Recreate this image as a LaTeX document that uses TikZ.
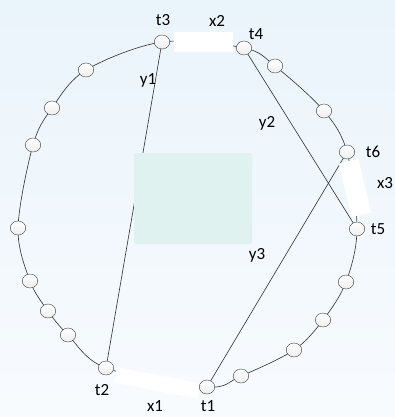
\documentclass[tikz,border=0pt]{standalone}
\usepackage{fontspec}
\setmainfont{Carlito}
\usepackage{tikz}
\usetikzlibrary{positioning,shapes.geometric}
\definecolor{bgtop}{HTML}{EAF4FB}
\definecolor{bgbottom}{HTML}{F8FBFE}
\definecolor{ringline}{HTML}{3A3A3A}
\definecolor{zonefill}{HTML}{DFF2F0}
\tikzset{
  station/.style={
    ellipse,
    draw=ringline,
    thin,
    top color=white,
    bottom color=gray!14,
    minimum width=15.5pt,
    minimum height=14pt,
    inner sep=0pt
  },
  gapbox/.style={
    fill=white,
    inner sep=0pt
  },
  chord/.style={
    draw=ringline,
    line width=0.65pt
  },
  tag/.style={
    font=\fontsize{17}{20}\selectfont,
    inner sep=0pt
  }
}

\begin{document}
\begin{tikzpicture}[x=1pt,y=-1pt]
  \fill[top color=bgtop, bottom color=bgbottom] (0,0) rectangle (395,417);
  \useasboundingbox (0,0) rectangle (395,417);

  % stations on the ring
  \coordinate (t3) at (162,42);
  \coordinate (a1) at (86,70);
  \coordinate (a2) at (52,108);
  \coordinate (a3) at (33,145);
  \coordinate (a4) at (18,228);
  \coordinate (a5) at (30,281);
  \coordinate (a6) at (48,311);
  \coordinate (a7) at (68,335);
  \coordinate (t2) at (106,368);
  \coordinate (t1) at (207,387);
  \coordinate (b1) at (241,376);
  \coordinate (b2) at (294,350);
  \coordinate (b3) at (323,320);
  \coordinate (b4) at (346,282);
  \coordinate (t5) at (357,229);
  \coordinate (t6) at (347,152);
  \coordinate (c1) at (324,111);
  \coordinate (c2) at (275,66);
  \coordinate (t4) at (244,48);

  \draw[chord] plot[smooth cycle, tension=0.55] coordinates {(t3) (a1) (a2) (a3) (a4) (a5) (a6) (a7) (t2) (t1) (b1) (b2) (b3) (b4) (t5) (t6) (c1) (c2) (t4)};

  \draw[chord] (t3) -- (t2);
  \draw[chord] (t4) -- (t5);
  \draw[chord] (t1) -- (t6);

  \node[fill=zonefill, rounded corners=2pt, minimum width=118pt, minimum height=91pt, inner sep=0pt] (zone) at (193,198.5) {};

  \node[gapbox, minimum width=59pt, minimum height=20pt] (x2box) at (203.5,42) {};
  \node[gapbox, minimum width=85pt, minimum height=15.5pt, rotate=-10.8] (x1box) at (157,383) {};
  \node[gapbox, minimum width=55pt, minimum height=20pt, rotate=-76.5] (x3box) at (355,188) {};

  \foreach \s in {t1,t2,t3,t4,t5,t6,a1,a2,a3,a4,a5,a6,a7,b1,b2,b3,b4,c1,c2}
    \node[station] (n\s) at (\s) {};

  \node[tag] (lt1) at (208,406.5) {t1};
  \node[tag] (lt2) at (102,390) {t2};
  \node[tag] (lt3) at (163,20) {t3};
  \node[tag] (lt4) at (256,34) {t4};
  \node[tag] (lt5) at (378,229) {t5};
  \node[tag] (lt6) at (373,152) {t6};
  \node[tag] (lx1) at (155,406) {x1};
  \node[tag] (lx2) at (217,21) {x2};
  \node[tag] (lx3) at (385,183) {x3};
  \node[tag] (ly1) at (148,80) {y1};
  \node[tag] (ly2) at (267,123) {y2};
  \node[tag] (ly3) at (257,255) {y3};
\end{tikzpicture}
\end{document}
